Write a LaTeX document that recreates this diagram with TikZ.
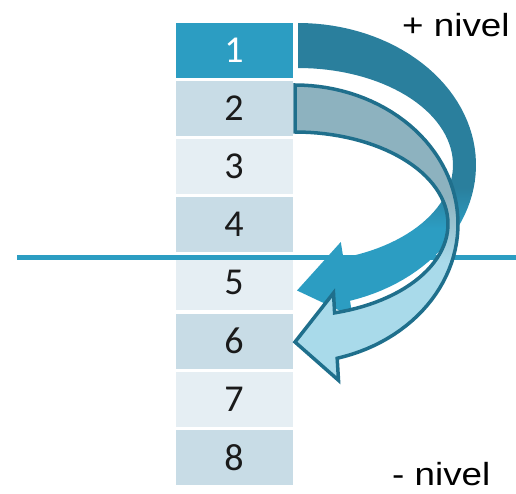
\documentclass[tikz,border=0pt]{standalone}
\usepackage{fontspec}
\setmainfont{Carlito}
\newfontfamily\labelfont{Liberation Sans}
\definecolor{tealdark}{HTML}{2A7F9D}
\definecolor{tealmid}{HTML}{2C9DC2}
\definecolor{tealline}{HTML}{1F6F8C}
\definecolor{greyblue}{HTML}{8DB2BF}
\definecolor{paleblue}{HTML}{A9DAEA}
\definecolor{cellodd}{HTML}{E5EEF3}
\definecolor{celleven}{HTML}{C8DCE6}
\definecolor{digit}{HTML}{1A1A1A}
\pgfdeclareverticalshading{arrowone}{100bp}{color(0bp)=(tealmid); color(40bp)=(tealmid); color(47bp)=(tealdark); color(100bp)=(tealdark)}
\pgfdeclareverticalshading{arrowtwo}{100bp}{color(0bp)=(paleblue); color(45bp)=(paleblue); color(56bp)=(greyblue); color(100bp)=(greyblue)}
\begin{document}
\begin{tikzpicture}[x=1pt,y=-1pt,
  cell/.style={minimum width=117pt,minimum height=55pt,inner sep=0pt,text=digit,font=\fontsize{38}{40}\selectfont},
  lbl/.style={inner sep=0pt,xscale=1.15,font=\labelfont\fontsize{32}{34}\selectfont}]
\useasboundingbox (0,0) rectangle (516,494);
\node[cell,fill=tealmid,text=white] (c1) at (234,50.5) {1};
\node[cell,fill=celleven] (c2) at (234,108.6) {2};
\node[cell,fill=cellodd] (c3) at (234,166.7) {3};
\node[cell,fill=celleven] (c4) at (234,224.8) {4};
\node[cell,fill=cellodd] (c5) at (234,282.9) {5};
\node[cell,fill=celleven] (c6) at (234,341) {6};
\node[cell,fill=cellodd] (c7) at (234,399.1) {7};
\node[cell,fill=celleven] (c8) at (234,457.2) {8};
% level line
\coordinate (lvlL) at (17,257);
\coordinate (lvlR) at (516,257);
\draw[tealmid,line width=5pt] (lvlL) -- (lvlR);
% arrow from 1 down to 5
\shade[shading=arrowone]
  plot[domain=90:-73,samples=60] ({298+178*cos(\x)},{165-142*sin(\x)})
  -- (352.5,316.6) -- (297,290.5) -- (340.8,242)
  -- plot[domain=-73:90,samples=60] ({298+155*cos(\x)},{165-97*sin(\x)})
  -- cycle;
% arrow from 2 down to 6
\shadedraw[shading=arrowtwo,draw=tealline,line width=3.5pt,line join=miter]
  plot[domain=90:-75,samples=60] ({295+163*cos(\x)},{224-139*sin(\x)})
  -- (338.5,380.3) -- (295,342) -- (333.5,293)
  -- plot[domain=-75:90,samples=60] ({295+153*cos(\x)},{224-92*sin(\x)})
  -- cycle;
\node[lbl,anchor=base west] (up) at (402,37) {+ nivel};
\node[lbl,anchor=base west] (down) at (392,485) {- nivel};
\end{tikzpicture}
\end{document}
